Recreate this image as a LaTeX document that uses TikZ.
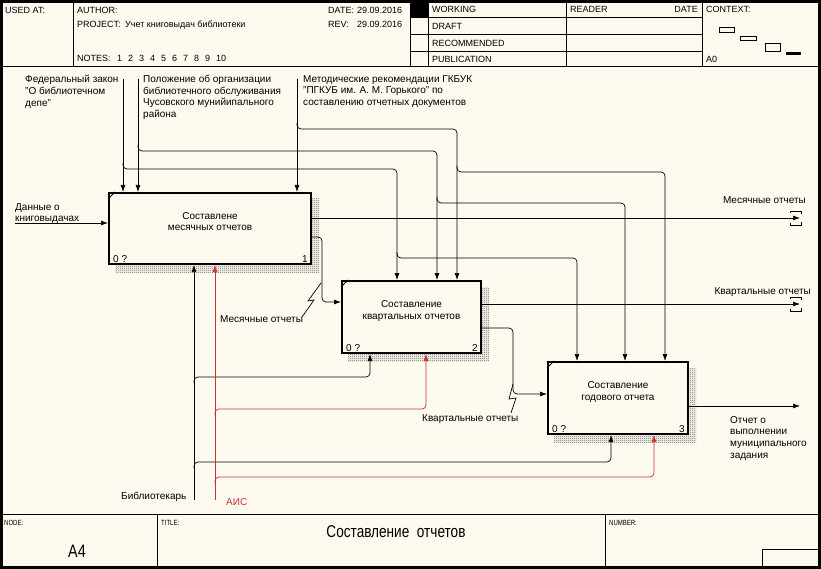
\documentclass[tikz,border=0pt]{standalone}
\usepackage{fontspec}
\setmainfont{Liberation Sans}
\newfontfamily\narrowfont[FakeStretch=0.8]{Liberation Sans}
\usetikzlibrary{arrows.meta,patterns,backgrounds}
\definecolor{paper}{HTML}{FEFAF0}
\definecolor{aisred}{HTML}{C83232}
\pgfdeclarepatternformonly{checker}{\pgfqpoint{0pt}{0pt}}{\pgfqpoint{2pt}{2pt}}{\pgfqpoint{2pt}{2pt}}%
    {\pgfpathrectangle{\pgfqpoint{0pt}{0pt}}{\pgfqpoint{1pt}{1pt}}%
     \pgfpathrectangle{\pgfqpoint{1pt}{1pt}}{\pgfqpoint{1pt}{1pt}}\pgfusepath{fill}}

\begin{document}
\begin{tikzpicture}[x=1pt,y=-1pt,
        arr/.style={-{Latex[length=7pt,width=5pt]},line width=0.7pt,rounded corners=4pt},
        redarr/.style={arr,draw=aisred},
        func/.style={draw,line width=2pt,fill=paper,anchor=north west,inner sep=0pt},
        functext/.style={font=\fontsize{10}{11.5}\selectfont,align=center,inner sep=0pt},
        corner/.style={font=\fontsize{10}{11}\selectfont,inner sep=0pt},
        lbl/.style={anchor=north west,inner sep=0pt,font=\fontsize{10}{11.7}\selectfont,align=left},
        hdr/.style={anchor=base west,inner sep=0pt,font=\fontsize{9}{11}\selectfont},
        shadow/.style={pattern=checker,pattern color=black!60}]
    \useasboundingbox (0,0) rectangle (821,569);

    % frame
    \draw[line width=0.8pt] (0,66) -- (821,66);
    \draw[line width=0.8pt] (0,514) -- (821,514);
    \draw[line width=0.8pt] (73,0) -- (73,66) (410,0) -- (410,66) (428,0) -- (428,66)
        (566,0) -- (566,66) (702,0) -- (702,66);
    \draw[line width=0.8pt] (410,17) -- (702,17) (410,34) -- (702,34) (410,51) -- (702,51);
    \fill (410,0) rectangle (428,17);
    \draw[line width=0.8pt] (157,514) -- (157,569) (605,514) -- (605,569);
    \draw[line width=0.8pt] (762,549) rectangle (821,569);
    \draw[line width=3pt] (1.5,1.5) rectangle (819.5,567.5);

    \node[hdr] (usedat) at (5,14) {USED AT:};
    \node[hdr] (author) at (77,14) {AUTHOR:};
    \node[hdr] (project) at (77,28) {PROJECT:};
    \node[hdr] (projname) at (125,28) {Учет книговыдач библиотеки};
    \node[hdr] (notes) at (77,62) {NOTES:};
    \foreach \n in {1,...,10}
        \node[hdr] (note\n) at (106+11*\n,62) {\n};
    \node[hdr] (date) at (328,14) {DATE:};
    \node[hdr] (dateval) at (357,14) {29.09.2016};
    \node[hdr] (rev) at (328,28) {REV:};
    \node[hdr] (revval) at (357,28) {29.09.2016};
    \node[hdr] (working) at (432,13) {WORKING};
    \node[hdr] (draft) at (432,30) {DRAFT};
    \node[hdr] (recommended) at (432,47) {RECOMMENDED};
    \node[hdr] (publication) at (432,63) {PUBLICATION};
    \node[hdr] (reader) at (570,13) {READER};
    \node[hdr,anchor=base east] (rdate) at (698,13) {DATE};
    \node[hdr] (context) at (706,13) {CONTEXT:};
    \node[hdr] (azero) at (706,63) {A0};
    \draw[line width=0.7pt] (719,27) rectangle (734,32) (740,36) rectangle (756,40)
        (765,43) rectangle (780,51);
    \fill (786,52) rectangle (801,55);

    \node[hdr,font=\narrowfont\fontsize{7.5}{8}\selectfont] (nodehdr) at (4,525) {NODE:};
    \node[hdr,font=\narrowfont\fontsize{7.5}{8}\selectfont] (titlehdr) at (161,525) {TITLE:};
    \node[hdr,font=\narrowfont\fontsize{7.5}{8}\selectfont] (numberhdr) at (609,525) {NUMBER:};
    \node[inner sep=0pt,font=\narrowfont\fontsize{18}{20}\selectfont] (nodeval) at (77,551) {A4};
    \node[inner sep=0pt,font=\narrowfont\fontsize{17}{19}\selectfont] (title) at (396,532) {Составление\ \ отчетов};

    % boxes
    \node[func,minimum width=202pt,minimum height=71pt] (b1) at (108,192) {};
    \node[func,minimum width=139pt,minimum height=72pt] (b2) at (341,280) {};
    \node[func,minimum width=140pt,minimum height=72pt] (b3) at (547,361) {};
    \begin{scope}[on background layer]
        \fill[paper] (0,0) rectangle (821,569);
        \foreach \b in {b1,b2,b3}
            \fill[shadow] ([shift={(7,7)}]\b.north west) rectangle ([shift={(7,7)}]\b.south east);
    \end{scope}
    \foreach \b in {b1,b2,b3}
        \draw[line width=0.9pt] ([yshift=-7pt]\b.north west) -- ([xshift=7pt]\b.north west);
    \node[functext] (b1t) at ([yshift=7pt]b1.center) {Составлене\\месячных отчетов};
    \node[functext] (b2t) at ([yshift=6pt]b2.center) {Составление\\квартальных отчетов};
    \node[functext] (b3t) at ([yshift=6pt]b3.center) {Составление\\годового отчета};
    \node[corner,anchor=south west] (b1z) at ([shift={(5,-2)}]b1.south west) {0 ?};
    \node[corner,anchor=south east] (b1n) at ([shift={(-4,-2)}]b1.south east) {1};
    \node[corner,anchor=south west] (b2z) at ([shift={(5,-2)}]b2.south west) {0 ?};
    \node[corner,anchor=south east] (b2n) at ([shift={(-4,-2)}]b2.south east) {2};
    \node[corner,anchor=south west] (b3z) at ([shift={(5,-2)}]b3.south west) {0 ?};
    \node[corner,anchor=south east] (b3n) at ([shift={(-4,-2)}]b3.south east) {3};

    % labels
    \node[lbl] (fz) at (25,75) {Федеральный закон\\"О библиотечном\\депе"};
    \node[lbl] (pol) at (143,75) {Положение об организации\\библиотечного обслуживания\\Чусовского мунийипального\\района};
    \node[lbl] (met) at (303,75) {Методические рекомендации ГКБУК\\"ПГКУБ им. А. М. Горького" по\\составлению отчетных документов};
    \node[lbl] (dan) at (15,203) {Данные о\\книговыдачах};
    \node[lbl,anchor=north east] (mesr) at (806,196) {Месячные отчеты};
    \node[lbl,anchor=north east] (kvr) at (811,287) {Квартальные отчеты};
    \node[lbl] (mesm) at (220,315) {Месячные отчеты};
    \node[lbl] (kvm) at (422,414) {Квартальные отчеты};
    \node[lbl] (otch) at (730,416) {Отчет о\\выполнении\\муниципального\\задания};
    \node[lbl] (bib) at (121,492) {Библиотекарь};
    \node[lbl,text=aisred] (ais) at (226,498) {АИС};

    \coordinate (fzc) at (123,79);
    \coordinate (polc) at (138,79);
    \coordinate (metc) at (297,79);
    \coordinate (inp) at (15,223);
    \coordinate (mo) at (800,218);
    \coordinate (ko) at (800,304);
    \coordinate (go) at (800,406);
    \coordinate (libc) at (194,500);
    \coordinate (aisc) at (215,500);
    \coordinate (k1) at (397,169);
    \coordinate (k2) at (437,151);
    \coordinate (k3) at (457,129);
    \coordinate (k4) at (577,258);
    \coordinate (k5) at (625,203);
    \coordinate (k6) at (665,172);
    \coordinate (m1) at (370,377);
    \coordinate (m2) at (611,462);
    \coordinate (r1) at (426,409);
    \coordinate (r2) at (654,477);
    \coordinate (o1) at (322,237);
    \coordinate (i2) at (322,302);
    \coordinate (o2) at (513,328);
    \coordinate (i3) at (513,394);

    % controls
    \draw[arr] (fzc) -- (fzc |- b1.north);
    \draw[arr] (polc) -- (polc |- b1.north);
    \draw[arr] (metc) -- (metc |- b1.north);
    \draw[arr] ([yshift=6pt]fzc |- k1) -- (fzc |- k1) -- (k1) -- (k1 |- b2.north);
    \draw[arr] ([yshift=6pt]polc |- k2) -- (polc |- k2) -- (k2) -- (k2 |- b2.north);
    \draw[arr] ([yshift=6pt]metc |- k3) -- (metc |- k3) -- (k3) -- (k3 |- b2.north);
    \draw[arr] ([yshift=6pt]k1 |- k4) -- (k1 |- k4) -- (k4) -- (k4 |- b3.north);
    \draw[arr] ([yshift=6pt]k2 |- k5) -- (k2 |- k5) -- (k5) -- (k5 |- b3.north);
    \draw[arr] ([yshift=6pt]k3 |- k6) -- (k3 |- k6) -- (k6) -- (k6 |- b3.north);

    % inputs and outputs
    \draw[arr] (inp) -- (b1.west |- inp);
    \draw[arr] (b1.east |- mo) -- (mo);
    \draw[arr] (b1.east |- o1) -- (o1) -- (i2) -- (b2.west |- i2);
    \draw[arr] (b2.east |- ko) -- (ko);
    \draw[arr] (b2.east |- o2) -- (o2) -- (i3) -- (b3.west |- i3);
    \draw[arr] (b3.east |- go) -- (go);
    \foreach \t in {mo,ko}
        \draw[line width=0.7pt] ([shift={(-10,-5)}]\t) -- ([shift={(-10,-7)}]\t) -- ([shift={(1,-7)}]\t) -- ([shift={(1,-4)}]\t)
            ([shift={(-10,5)}]\t) -- ([shift={(-10,7)}]\t) -- ([shift={(1,7)}]\t) -- ([shift={(1,4)}]\t);
    \draw[line width=0.7pt] (302,317) -- (314,300) -- (308,301) -- (321,283);
    \draw[line width=0.7pt] (511,413) -- (516,398) -- (509,399) -- (513,384);

    % mechanisms
    \draw[arr] (libc) -- (libc |- b1.south);
    \draw[arr] ([yshift=-6pt]libc |- m1) -- (libc |- m1) -- (m1) -- (m1 |- b2.south);
    \draw[arr] ([yshift=-6pt]libc |- m2) -- (libc |- m2) -- (m2) -- (m2 |- b3.south);
    \draw[redarr] (aisc) -- (aisc |- b1.south);
    \draw[redarr] ([yshift=-6pt]aisc |- r1) -- (aisc |- r1) -- (r1) -- (r1 |- b2.south);
    \draw[redarr] ([yshift=-6pt]aisc |- r2) -- (aisc |- r2) -- (r2) -- (r2 |- b3.south);
\end{tikzpicture}
\end{document}
